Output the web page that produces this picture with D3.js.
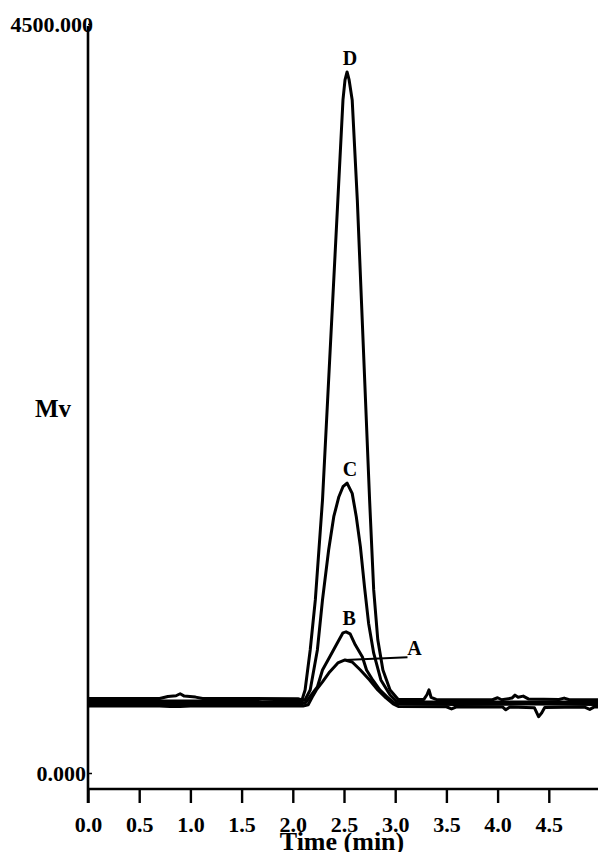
<!DOCTYPE html>
<html lang="en">
<head>
    <meta charset="UTF-8">
    <title>Chromatogram - Mv vs time</title>
    <style>
        body { margin: 0; background: #fff; }
        text { font-family: "Liberation Serif", "Times New Roman", serif; font-weight: bold; fill: #000; }
    </style>
</head>
<body>
    <script src="https://d3js.org/d3.v7.min.js"></script>
    <script>
        // [time (min), signal (mV)]
        const traceA = [
            [0, 403], [0.7, 403], [0.8, 400], [0.9, 400], [1.0, 403], [2.10, 403],
            [2.15, 410], [2.19, 457], [2.23, 499], [2.29, 547], [2.36, 607], [2.44, 661], [2.51, 679],
            [2.58, 667], [2.66, 619], [2.75, 559], [2.83, 499], [2.91, 451], [2.98, 415], [3.03, 400],
            [3.5, 398], [3.55, 385], [3.6, 398], [4.05, 396], [4.08, 380], [4.12, 396],
            [4.36, 392], [4.40, 338], [4.43, 360], [4.46, 394], [4.85, 396], [4.9, 382], [4.94, 396], [5.0, 396]
        ];
        const traceB = [
            [0, 418], [2.10, 418],
            [2.13, 425], [2.18, 469], [2.24, 517], [2.29, 619], [2.36, 697], [2.44, 787], [2.49, 842], [2.52, 848],
            [2.56, 836], [2.61, 770], [2.68, 697], [2.72, 619], [2.78, 559], [2.85, 499], [2.92, 457], [2.99, 421],
            [3.05, 414], [3.6, 412], [4.3, 414], [5.0, 412]
        ];
        const traceC = [
            [0, 432], [1.6, 432], [1.7, 428], [2.08, 432],
            [2.12, 440], [2.17, 499], [2.24, 739], [2.29, 1040], [2.35, 1340], [2.40, 1540], [2.45, 1660],
            [2.49, 1720], [2.53, 1742],
            [2.58, 1680], [2.62, 1540], [2.66, 1360], [2.70, 1120], [2.74, 900], [2.79, 720], [2.86, 559],
            [2.95, 469], [3.01, 432], [3.08, 426], [4.0, 426], [5.0, 426]
        ];
        const traceD = [
            [0, 448], [0.70, 448], [0.78, 460], [0.86, 464], [0.90, 476], [0.94, 462], [1.05, 456], [1.12, 448],
            [2.05, 446], [2.09, 439],
            [2.12, 499], [2.17, 739], [2.22, 1040], [2.29, 1640], [2.34, 2241], [2.39, 2842], [2.44, 3443],
            [2.49, 4044], [2.51, 4164], [2.53, 4212],
            [2.55, 4164], [2.58, 4044], [2.63, 3443], [2.67, 2842], [2.71, 2241], [2.75, 1640], [2.79, 1100],
            [2.83, 800], [2.88, 619], [2.95, 499], [3.03, 442],
            [3.28, 442], [3.31, 470], [3.33, 500], [3.35, 455], [3.4, 442], [3.95, 440], [4.0, 452], [4.04, 440],
            [4.14, 450], [4.17, 468], [4.2, 455], [4.25, 462], [4.3, 445], [4.6, 442], [4.65, 450], [4.7, 440], [5.0, 440]
        ];

        const traces = [
            { name: 'A', values: traceA },
            { name: 'B', values: traceB },
            { name: 'C', values: traceC },
            { name: 'D', values: traceD }
        ];

        const xTicks = [0, 0.5, 1.0, 1.5, 2.0, 2.5, 3.0, 3.5, 4.0, 4.5];
        const yTicks = [0, 4500];
        const leaderA = [[2.51, 679], [3.12, 695]];

        const width = 598,
            height = 852,
            left = 88,
            bottom = 789;

        const x = d3.scaleLinear().domain([0, 5]).range([left, left + 5 * 102.4]);
        const y = d3.scaleLinear().domain([0, 4500]).range([773, 24]);

        const svg = d3.select('body').append('svg')
            .attr('width', width).attr('height', height);

        svg.append('defs').append('clipPath').attr('id', 'plot')
            .append('rect').attr('x', left).attr('y', 0).attr('width', width - left).attr('height', bottom);

        // x axis
        const xAxis = svg.append('g')
            .attr('transform', `translate(0,${bottom})`)
            .call(d3.axisBottom(x).tickValues(xTicks).tickSize(14).tickPadding(13)
                .tickFormat(d3.format('.1f')));
        xAxis.select('.domain').remove();
        xAxis.selectAll('line').attr('stroke', '#000').attr('stroke-width', 2.4);
        xAxis.selectAll('text').style('font-size', '22px');

        // y axis
        const yAxis = svg.append('g')
            .attr('transform', `translate(${left},0)`)
            .call(d3.axisLeft(y).tickValues(yTicks).tickSize(-4).tickPadding(3)
                .tickFormat(d3.format('.3f')));
        yAxis.select('.domain').remove();
        yAxis.selectAll('line').attr('stroke', '#000').attr('stroke-width', 1.5);
        yAxis.selectAll('text').style('font-size', '22px')
            .attr('x', function(d) { return d === 4500 ? 5 : -2; });

        svg.append('line')
            .attr('x1', left).attr('x2', width)
            .attr('y1', bottom).attr('y2', bottom)
            .attr('stroke', '#000').attr('stroke-width', 2.4);
        svg.append('line')
            .attr('x1', left).attr('x2', left)
            .attr('y1', 26).attr('y2', bottom + 14)
            .attr('stroke', '#000').attr('stroke-width', 2.6);

        // traces
        const line = d3.line()
            .x(function(d) { return x(d[0]); })
            .y(function(d) { return y(d[1]); });

        svg.append('g')
            .attr('clip-path', 'url(#plot)')
            .selectAll('path')
            .data(traces)
            .enter().append('path')
            .attr('d', function(d) { return line(d.values); })
            .attr('fill', 'none')
            .attr('stroke', '#000')
            .attr('stroke-width', 3)
            .attr('stroke-linejoin', 'round');

        // peak labels
        svg.append('g')
            .selectAll('text')
            .data(traces.filter(function(d) { return d.name !== 'A'; }))
            .enter().append('text')
            .attr('x', function(d) {
                const top = d3.greatest(d.values, function(v) { return v[1]; });
                return x(top[0]) + 3;
            })
            .attr('y', function(d) {
                const top = d3.greatest(d.values, function(v) { return v[1]; });
                return y(top[1]) - 7;
            })
            .attr('text-anchor', 'middle')
            .style('font-size', '20px')
            .text(function(d) { return d.name; });

        svg.append('path')
            .attr('d', line(leaderA))
            .attr('stroke', '#000').attr('stroke-width', 2);
        svg.append('text')
            .attr('x', x(leaderA[1][0]) + 7)
            .attr('y', y(leaderA[1][1]) - 2)
            .attr('text-anchor', 'middle')
            .style('font-size', '20px')
            .text('A');

        // axis titles
        svg.append('text')
            .attr('x', 53).attr('y', 417)
            .attr('text-anchor', 'middle')
            .style('font-size', '25px')
            .text('Mv');
        svg.append('text')
            .attr('x', x(2.5) - 2).attr('y', 850)
            .attr('text-anchor', 'middle')
            .style('font-size', '26px')
            .text('Time (min)');
    </script>
</body>
</html>
